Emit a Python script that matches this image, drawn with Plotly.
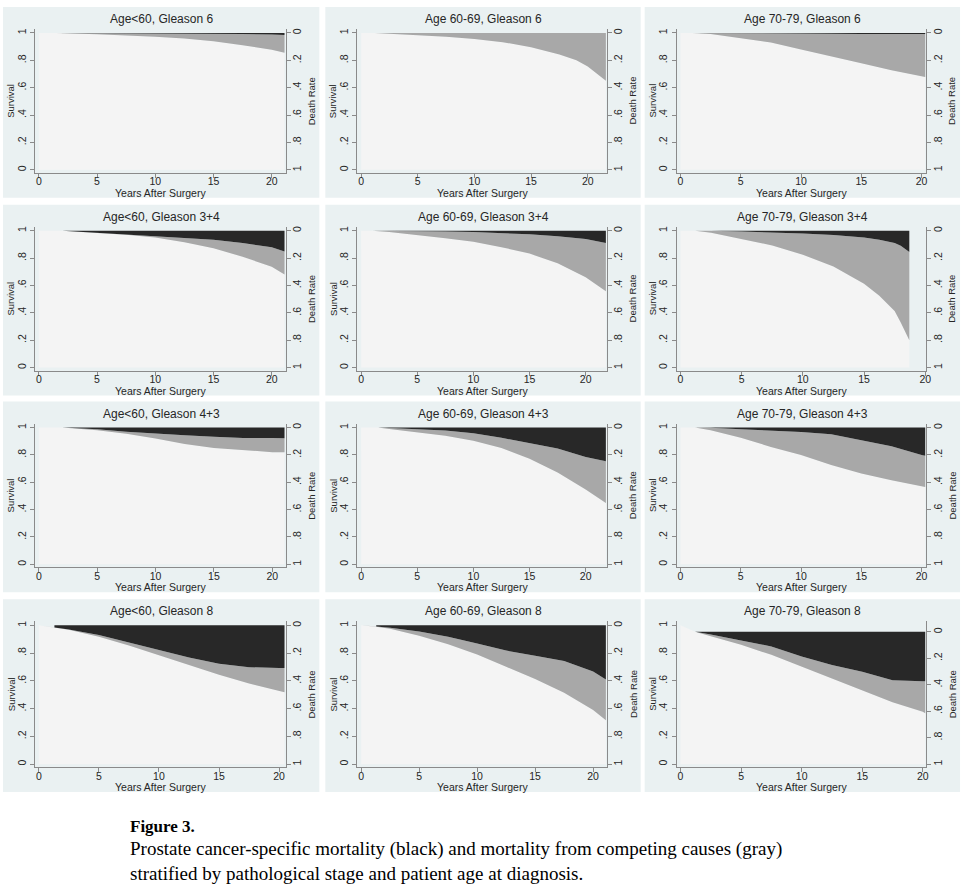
import plotly.graph_objects as go

# ---------------- data ----------------
titles = [
    "Age<60, Gleason 6", "Age 60-69, Gleason 6", "Age 70-79, Gleason 6",
    "Age<60, Gleason 3+4", "Age 60-69, Gleason 3+4", "Age 70-79, Gleason 3+4",
    "Age<60, Gleason 4+3", "Age 60-69, Gleason 4+3", "Age 70-79, Gleason 4+3",
    "Age<60, Gleason 8", "Age 60-69, Gleason 8", "Age 70-79, Gleason 8",
]

years = [
    [0, 1.5, 5, 7.5, 10, 12.5, 15, 17.5, 20, 21.1],
    [0, 1.2, 5, 7.5, 10, 12.5, 15, 17.5, 19, 20, 21.6],
    [0, 1.0, 2.5, 5, 7.5, 10, 12.5, 15, 17.5, 20, 20.3],
    [0, 2.0, 5, 7.5, 10, 12.5, 15, 17.5, 20, 21.1],
    [0, 1.0, 2.5, 5, 7.5, 10, 12.5, 15, 17.5, 20, 21.8],
    [0, 1.2, 2.5, 5, 7.5, 10, 12.5, 15, 16.25, 17.5, 18.0, 18.7],
    [0, 2.0, 5, 7.5, 10, 12.5, 15, 17.5, 20, 21.05],
    [0, 1.5, 2.5, 5, 7.5, 10, 12.5, 15, 17.5, 20, 21.8],
    [0, 1.2, 2.5, 5, 7.5, 10, 12.5, 15, 17.5, 20, 20.3],
    [0, 1.3, 2.5, 5, 7.5, 10, 12.5, 15, 17.5, 20, 20.45],
    [0, 1.3, 2.5, 5, 7.5, 10, 12.5, 15, 17.5, 20, 21.1],
    [0, 1.2, 2.5, 5, 7.5, 10, 12.5, 15, 17.5, 20, 20.2],
]

# survival (light area)
survival = [
    [1, 1.0, 0.990, 0.983, 0.973, 0.960, 0.940, 0.910, 0.878, 0.855],
    [1, 1.0, 0.983, 0.972, 0.955, 0.933, 0.895, 0.843, 0.800, 0.755, 0.650],
    [1, 1.0, 0.993, 0.963, 0.931, 0.880, 0.827, 0.778, 0.728, 0.684, 0.678],
    [1, 1.0, 0.983, 0.970, 0.951, 0.916, 0.872, 0.810, 0.737, 0.680],
    [1, 1.0, 0.990, 0.970, 0.945, 0.920, 0.880, 0.833, 0.763, 0.660, 0.558],
    [1, 1.0, 0.985, 0.938, 0.893, 0.825, 0.738, 0.613, 0.525, 0.413, 0.330, 0.200],
    [1, 1.0, 0.980, 0.955, 0.920, 0.880, 0.850, 0.833, 0.820, 0.819],
    [1, 1.0, 0.990, 0.965, 0.940, 0.903, 0.850, 0.771, 0.672, 0.547, 0.448],
    [1, 1.0, 0.980, 0.925, 0.858, 0.800, 0.726, 0.664, 0.614, 0.575, 0.565],
    [1, 0.985, 0.968, 0.918, 0.855, 0.785, 0.713, 0.643, 0.580, 0.530, 0.518],
    [1, 0.990, 0.975, 0.925, 0.863, 0.789, 0.701, 0.614, 0.515, 0.390, 0.316],
    [1, 0.953, 0.922, 0.860, 0.787, 0.702, 0.616, 0.530, 0.445, 0.377, 0.367],
]

# cumulative mortality from competing causes (gray)
competing = [
    [0, 0, 0.009, 0.016, 0.025, 0.037, 0.056, 0.082, 0.110, 0.131],
    [0, 0, 0.017, 0.028, 0.045, 0.067, 0.105, 0.157, 0.200, 0.245, 0.350],
    [0, 0, 0.007, 0.037, 0.068, 0.117, 0.168, 0.214, 0.264, 0.308, 0.314],
    [0, 0, 0.002, 0.005, 0.012, 0.034, 0.062, 0.100, 0.143, 0.168],
    [0, 0, 0.010, 0.028, 0.050, 0.070, 0.105, 0.142, 0.197, 0.280, 0.352],
    [0, 0, 0.015, 0.056, 0.095, 0.155, 0.230, 0.337, 0.410, 0.497, 0.560, 0.645],
    [0, 0, 0.008, 0.015, 0.035, 0.063, 0.083, 0.090, 0.103, 0.103],
    [0, 0, 0.008, 0.023, 0.038, 0.055, 0.075, 0.112, 0.174, 0.237, 0.306],
    [0, 0, 0.018, 0.063, 0.122, 0.168, 0.224, 0.244, 0.249, 0.225, 0.228],
    [0, 0.0, 0.002, 0.012, 0.020, 0.033, 0.055, 0.080, 0.118, 0.163, 0.175],
    [0, 0.002, 0.008, 0.030, 0.055, 0.079, 0.117, 0.166, 0.228, 0.277, 0.294],
    [0, 0, 0.012, 0.030, 0.061, 0.073, 0.098, 0.135, 0.159, 0.220, 0.230],
]

# cumulative prostate cancer-specific mortality (black)
cancer = [
    [0, 0, 0.001, 0.001, 0.002, 0.003, 0.004, 0.008, 0.012, 0.014],
    [0, 0, 0, 0, 0, 0, 0, 0, 0, 0, 0],
    [0, 0, 0, 0, 0.001, 0.003, 0.005, 0.008, 0.008, 0.008, 0.008],
    [0, 0, 0.015, 0.025, 0.037, 0.050, 0.066, 0.090, 0.120, 0.152],
    [0, 0, 0, 0.002, 0.005, 0.010, 0.015, 0.025, 0.040, 0.060, 0.090],
    [0, 0, 0, 0.006, 0.012, 0.020, 0.032, 0.050, 0.065, 0.090, 0.110, 0.155],
    [0, 0, 0.012, 0.030, 0.045, 0.057, 0.067, 0.077, 0.077, 0.078],
    [0, 0, 0.002, 0.012, 0.022, 0.042, 0.075, 0.117, 0.154, 0.216, 0.246],
    [0, 0, 0.002, 0.012, 0.020, 0.032, 0.050, 0.092, 0.137, 0.200, 0.207],
    [0, 0.015, 0.030, 0.070, 0.125, 0.182, 0.232, 0.277, 0.302, 0.307, 0.307],
    [0, 0.008, 0.017, 0.045, 0.082, 0.132, 0.182, 0.220, 0.257, 0.333, 0.390],
    [0, 0, 0.019, 0.063, 0.105, 0.178, 0.239, 0.288, 0.349, 0.356, 0.356],
]

y_ticks = [0, 0.2, 0.4, 0.6, 0.8, 1]
y_ticktext = ["0", ".2", ".4", ".6", ".8", "1"]
x_ticks = [0, 5, 10, 15, 20]

caption_head = "Figure 3."
caption_lines = [
    "Prostate cancer-specific mortality (black) and mortality from competing causes (gray)",
    "stratified by pathological stage and patient age at diagnosis.",
]

# ---------------- styling / geometry ----------------
W, H = 974, 893
FONT = "Liberation Sans, Arial, sans-serif"
PANEL_BG = "#EAF1F2"
LIGHT = "#F4F4F4"
GRAY = "#A8A8A8"
BLACK = "#282828"
AXIS_C = "#8A8A8A"
TXT = "#262626"

panel_x = [(3, 321), (327, 644), (648, 965)]
panel_y = [(6, 197), (204, 395), (401, 592), (599, 792)]

fig = go.Figure()
shapes, annotations = [], []
layout_axes = {}

for i in range(12):
    r, c = divmod(i, 3)
    px0, px1 = panel_x[c]
    py0, py1 = panel_y[r]
    left, right = px0 + 32, px1 - 34
    top, bottom = py0 + 22, py1 - 25
    n = i + 1
    xa, ya, ya2 = f"x{n}", f"y{n}", f"y{n + 12}"

    t = years[i]
    s = survival[i]
    gtop = [a + b for a, b in zip(s, competing[i])]
    btop = [a + b for a, b in zip(gtop, cancer[i])]

    # panel background
    shapes.append(dict(type="rect", xref="paper", yref="paper", layer="below",
                       x0=px0 / W, x1=px1 / W, y0=1 - py1 / H, y1=1 - py0 / H,
                       fillcolor=PANEL_BG, line=dict(width=0)))

    # stacked areas: survival -> competing -> cancer
    fig.add_trace(go.Scatter(x=t, y=s, fill="tozeroy", mode="lines",
                             line=dict(width=0), fillcolor=LIGHT, hoverinfo="skip",
                             xaxis=xa, yaxis=ya, showlegend=False))
    fig.add_trace(go.Scatter(x=t[1:], y=gtop[1:], fill="tonexty", mode="lines",
                             line=dict(width=0), fillcolor=GRAY, hoverinfo="skip",
                             xaxis=xa, yaxis=ya, showlegend=False))
    fig.add_trace(go.Scatter(x=t[1:], y=btop[1:], fill="tonexty", mode="lines",
                             line=dict(width=0), fillcolor=BLACK, hoverinfo="skip",
                             xaxis=xa, yaxis=ya, showlegend=False))
    # overall death rate on the right-hand axis (invisible, carries the axis)
    fig.add_trace(go.Scatter(x=t, y=[1 - v for v in s], mode="lines", opacity=0,
                             line=dict(width=0), hoverinfo="skip",
                             xaxis=xa, yaxis=ya2, showlegend=False))

    # axis ranges
    ph = bottom - top
    ppu_y = (ph - 7) / 1.0
    ylo = -3 / ppu_y
    yhi = 1 + 4 / ppu_y
    xmax = max(t[-1], 20)
    ppu_x = (right - left - 5) / xmax
    xlo = -4 / ppu_x
    xhi = xmax + 1 / ppu_x
    total = max(btop[1:])
    rlo = 1 - ylo / total
    rhi = 1 - yhi / total

    common = dict(showgrid=False, zeroline=False, showline=True, linecolor=AXIS_C,
                  linewidth=1, ticks="outside", ticklen=4, tickcolor=AXIS_C,
                  tickfont=dict(family=FONT, size=10.5, color=TXT), fixedrange=True)
    sx = "" if n == 1 else str(n)
    layout_axes[f"xaxis{sx}"] = dict(domain=[left / W, right / W], anchor=ya,
                                     range=[xlo, xhi], tickvals=x_ticks,
                                     ticklabelstandoff=-5, **common)
    layout_axes[f"yaxis{sx}"] = dict(domain=[1 - bottom / H, 1 - top / H], anchor=xa,
                                     range=[ylo, yhi], tickvals=y_ticks,
                                     ticktext=y_ticktext, tickangle=-90, **common)
    layout_axes[f"yaxis{n + 12}"] = dict(overlaying=ya, side="right", anchor=xa,
                                         range=[rlo, rhi], tickvals=y_ticks,
                                         ticktext=y_ticktext, tickangle=-90,
                                         ticklabelstandoff=-2, **common)

    # titles
    annotations.append(dict(text=titles[i], x=(px0 + px1) / 2 / W, y=1 - (py0 + 12) / H,
                            xref="paper", yref="paper", showarrow=False,
                            font=dict(family=FONT, size=12, color=TXT),
                            xanchor="center", yanchor="middle"))
    annotations.append(dict(text="Years After Surgery", x=(left + right) / 2 / W,
                            y=1 - (bottom + 20) / H, xref="paper", yref="paper",
                            showarrow=False, font=dict(family=FONT, size=10.5, color=TXT),
                            xanchor="center", yanchor="middle"))
    annotations.append(dict(text="Survival", x=(left - 24) / W, y=1 - (top + bottom) / 2 / H,
                            xref="paper", yref="paper", showarrow=False, textangle=-90,
                            font=dict(family=FONT, size=9.5, color=TXT),
                            xanchor="center", yanchor="middle"))
    annotations.append(dict(text="Death Rate", x=(right + 26) / W, y=1 - (top + bottom) / 2 / H,
                            xref="paper", yref="paper", showarrow=False, textangle=-90,
                            font=dict(family=FONT, size=9.5, color=TXT),
                            xanchor="center", yanchor="middle"))

# caption
SERIF = "Liberation Serif, Times New Roman, serif"
annotations.append(dict(text=f"<b>{caption_head}</b>", x=129 / W, y=1 - 826 / H,
                        xref="paper", yref="paper", showarrow=False,
                        font=dict(family=SERIF, size=17, color="#000"),
                        xanchor="left", yanchor="middle"))
for k, line in enumerate(caption_lines):
    annotations.append(dict(text=line, x=129 / W, y=1 - (849 + 24 * k) / H,
                            xref="paper", yref="paper", showarrow=False,
                            font=dict(family=SERIF, size=19, color="#000"),
                            xanchor="left", yanchor="middle"))

fig.update_layout(width=W, height=H, margin=dict(l=0, r=0, t=0, b=0),
                  paper_bgcolor="white", plot_bgcolor="white",
                  shapes=shapes, annotations=annotations, showlegend=False,
                  **layout_axes)

fig.write_html("out.html", config={"displayModeBar": False},
               post_script="document.body.style.margin='0';document.body.style.overflow='hidden';")
